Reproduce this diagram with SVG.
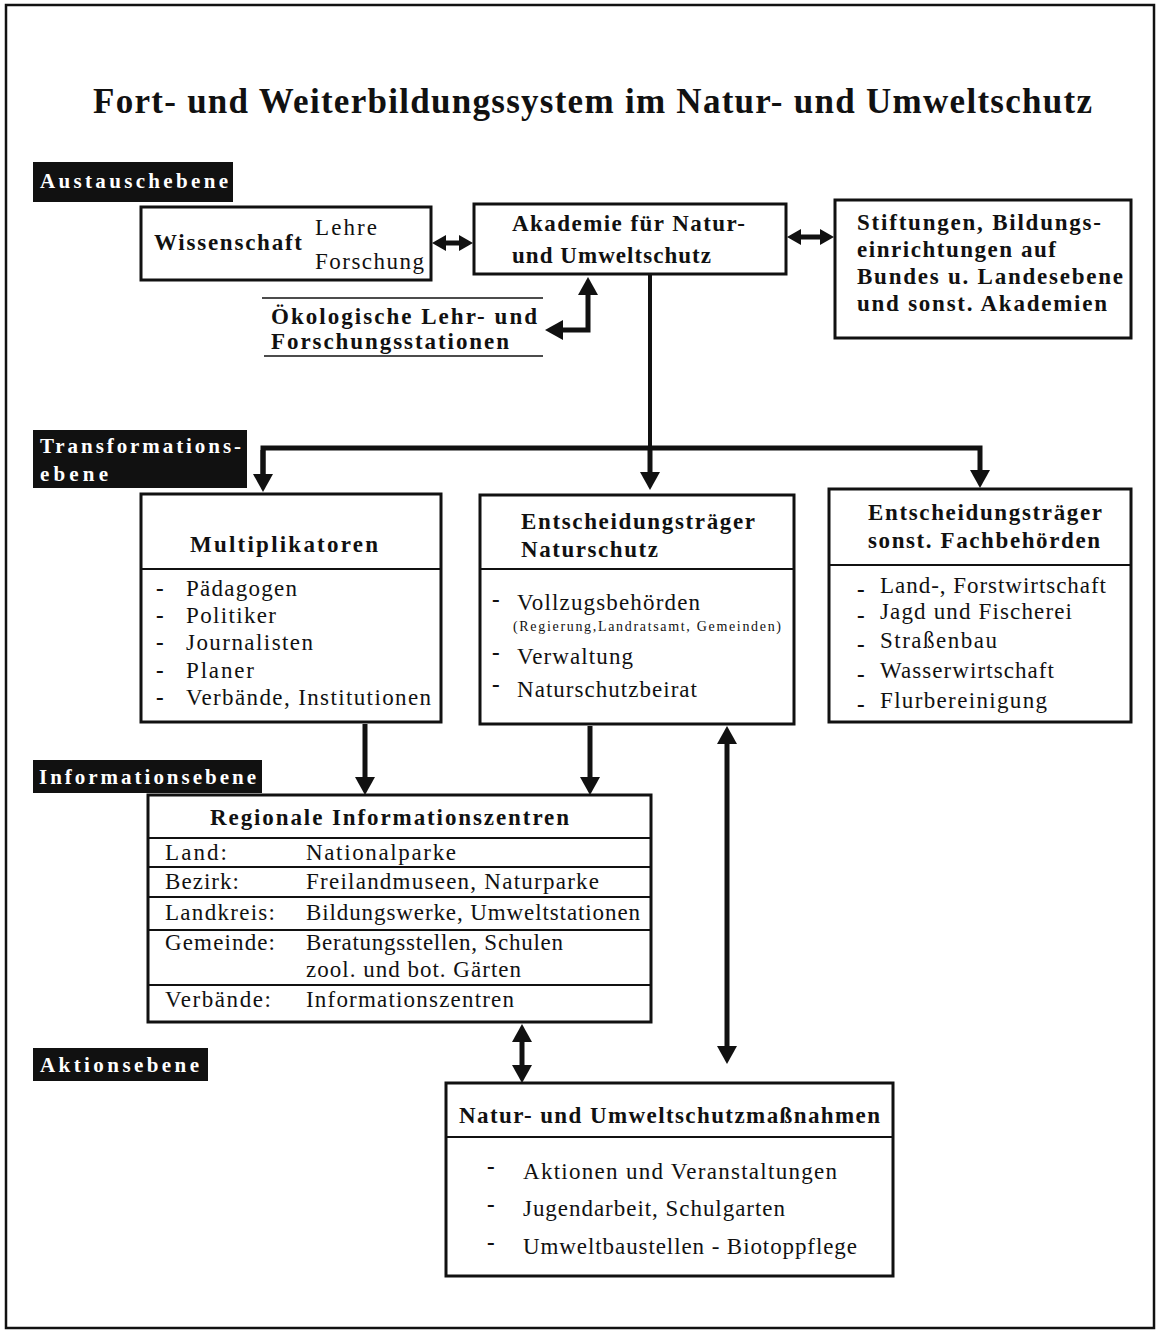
<svg xmlns="http://www.w3.org/2000/svg" width="1161" height="1331" viewBox="0 0 1161 1331">
<style>
text{font-family:"Liberation Serif","Times New Roman",serif;fill:#111}
.b{font-weight:bold}
.t{font-size:23px}
.lab{font-size:21px;font-weight:bold;fill:#fff}
.lbox{fill:#111}
.box{fill:#fff;stroke:#111;stroke-width:3}
.div{stroke:#111;stroke-width:2}
.con{fill:none;stroke:#111;stroke-width:5}
.thin{fill:none;stroke:#111;stroke-width:1.5}
</style>
<defs>
<marker id="ah" markerUnits="userSpaceOnUse" viewBox="0 0 18 20" markerWidth="18" markerHeight="20" refX="12" refY="10" orient="auto-start-reverse">
<path d="M0,0 L18,10 L0,20 z" fill="#111"/>
</marker>
<marker id="ahs" markerUnits="userSpaceOnUse" viewBox="0 0 14 16" markerWidth="14" markerHeight="16" refX="9" refY="8" orient="auto-start-reverse">
<path d="M0,0 L14,8 L0,16 z" fill="#111"/>
</marker>
</defs>
<rect width="1161" height="1331" fill="#fff"/>
<rect x="6" y="5" width="1148" height="1323" fill="none" stroke="#111" stroke-width="2.5"/>
<text x="93" y="113" class="b" font-size="35" textLength="999" lengthAdjust="spacing">Fort- und Weiterbildungssystem im Natur- und Umweltschutz</text>

<g id="level-labels">
<rect class="lbox" x="33" y="162" width="200" height="40"/>
<text class="lab" x="40" y="188" textLength="188">Austauschebene</text>
<rect class="lbox" x="33" y="430" width="214" height="58"/>
<text class="lab" x="40" y="453" textLength="201">Transformations-</text>
<text class="lab" x="40" y="481" textLength="68">ebene</text>
<rect class="lbox" x="33" y="760" width="229" height="33"/>
<text class="lab" x="39" y="784" textLength="217">Informationsebene</text>
<rect class="lbox" x="33" y="1048" width="175" height="33"/>
<text class="lab" x="40" y="1072" textLength="159">Aktionsebene</text>
</g>

<g id="connectors">
<line class="con" x1="437" y1="243" x2="468" y2="243" marker-start="url(#ahs)" marker-end="url(#ahs)"/>
<line class="con" x1="792" y1="237" x2="829" y2="237" marker-start="url(#ahs)" marker-end="url(#ahs)"/>
<path class="con" d="M551,330 H588 V283" marker-start="url(#ah)" marker-end="url(#ah)"/>
<line x1="650" y1="275" x2="650" y2="450" stroke="#111" stroke-width="4"/>
<path class="con" d="M650,446 V484" marker-end="url(#ah)"/>
<path class="con" d="M263,486 V448 H980 V482" marker-end="url(#ah)"/>
<path class="con" d="M263,450 V486" marker-end="url(#ah)"/>
<path class="con" d="M365,724 V789" marker-end="url(#ah)"/>
<path class="con" d="M590,726 V789" marker-end="url(#ah)"/>
<path class="con" d="M727,732 V1058" marker-start="url(#ah)" marker-end="url(#ah)"/>
<path class="con" d="M522,1030 V1077" marker-start="url(#ah)" marker-end="url(#ah)"/>
</g>

<g id="wissenschaft">
<rect class="box" x="141" y="207" width="290" height="73"/>
<text class="b t" x="154" y="250" textLength="148">Wissenschaft</text>
<text class="t" x="315" y="235" textLength="62">Lehre</text>
<text class="t" x="315" y="269" textLength="109">Forschung</text>
</g>

<g id="akademie">
<rect class="box" x="474" y="204" width="312" height="70"/>
<text class="b t" x="512" y="231" textLength="233">Akademie für Natur-</text>
<text class="b t" x="512" y="263" textLength="199">und Umweltschutz</text>
</g>

<g id="stiftungen">
<rect class="box" x="835" y="200" width="296" height="138"/>
<text class="b t" x="857" y="230" textLength="244">Stiftungen, Bildungs-</text>
<text class="b t" x="857" y="257" textLength="199">einrichtungen auf</text>
<text class="b t" x="857" y="284" textLength="266">Bundes u. Landesebene</text>
<text class="b t" x="857" y="311" textLength="250">und sonst. Akademien</text>
</g>

<g id="oekologische">
<line class="thin" x1="262" y1="298" x2="543" y2="298"/>
<line class="thin" x1="264" y1="356" x2="543" y2="356"/>
<text class="b t" x="271" y="324" textLength="266">Ökologische Lehr- und</text>
<text class="b t" x="271" y="349" textLength="238">Forschungsstationen</text>
</g>

<g id="multiplikatoren">
<rect class="box" x="141" y="494" width="300" height="228"/>
<line class="div" x1="141" y1="569" x2="441" y2="569"/>
<text class="b t" x="190" y="552" textLength="188">Multiplikatoren</text>
<text class="t b" x="156" y="596">-</text><text class="t" x="186" y="596" textLength="111">Pädagogen</text>
<text class="t b" x="156" y="623">-</text><text class="t" x="186" y="623" textLength="90">Politiker</text>
<text class="t b" x="156" y="650">-</text><text class="t" x="186" y="650" textLength="127">Journalisten</text>
<text class="t b" x="156" y="678">-</text><text class="t" x="186" y="678" textLength="68">Planer</text>
<text class="t b" x="156" y="705">-</text><text class="t" x="186" y="705" textLength="245">Verbände, Institutionen</text>
</g>

<g id="entscheidung-naturschutz">
<rect class="box" x="480" y="495" width="314" height="229"/>
<line class="div" x1="480" y1="569" x2="794" y2="569"/>
<text class="b t" x="521" y="529" textLength="234">Entscheidungsträger</text>
<text class="b t" x="521" y="557" textLength="137">Naturschutz</text>
<text class="t b" x="492" y="607">-</text><text class="t" x="517" y="610" textLength="183">Vollzugsbehörden</text>
<text x="513" y="631" font-size="14" textLength="268">(Regierung,Landratsamt, Gemeinden)</text>
<text class="t b" x="492" y="660">-</text><text class="t" x="517" y="664" textLength="116">Verwaltung</text>
<text class="t b" x="492" y="692">-</text><text class="t" x="517" y="697" textLength="180">Naturschutzbeirat</text>
</g>

<g id="entscheidung-fachbehoerden">
<rect class="box" x="829" y="489" width="302" height="233"/>
<line class="div" x1="829" y1="565" x2="1131" y2="565"/>
<text class="b t" x="868" y="520" textLength="234">Entscheidungsträger</text>
<text class="b t" x="868" y="548" textLength="232">sonst. Fachbehörden</text>
<text class="t b" x="857" y="597">-</text><text class="t" x="880" y="593" textLength="226">Land-, Forstwirtschaft</text>
<text class="t b" x="857" y="623">-</text><text class="t" x="880" y="619" textLength="192">Jagd und Fischerei</text>
<text class="t b" x="857" y="652">-</text><text class="t" x="880" y="648" textLength="117">Straßenbau</text>
<text class="t b" x="857" y="682">-</text><text class="t" x="880" y="678" textLength="174">Wasserwirtschaft</text>
<text class="t b" x="857" y="712">-</text><text class="t" x="880" y="708" textLength="167">Flurbereinigung</text>
</g>

<g id="regionale-informationszentren">
<rect class="box" x="148" y="795" width="503" height="227"/>
<text class="b t" x="210" y="825" textLength="359">Regionale Informationszentren</text>
<line class="div" x1="148" y1="838" x2="651" y2="838"/>
<line class="div" x1="148" y1="867" x2="651" y2="867"/>
<line class="div" x1="148" y1="897" x2="651" y2="897"/>
<line class="div" x1="148" y1="930" x2="651" y2="930"/>
<line class="div" x1="148" y1="985" x2="651" y2="985"/>
<text class="t" x="165" y="860" textLength="62">Land:</text>
<text class="t" x="306" y="860" textLength="150">Nationalparke</text>
<text class="t" x="165" y="889" textLength="74">Bezirk:</text>
<text class="t" x="306" y="889" textLength="293">Freilandmuseen, Naturparke</text>
<text class="t" x="165" y="920" textLength="110">Landkreis:</text>
<text class="t" x="306" y="920" textLength="334">Bildungswerke, Umweltstationen</text>
<text class="t" x="165" y="950" textLength="110">Gemeinde:</text>
<text class="t" x="306" y="950" textLength="257">Beratungsstellen, Schulen</text>
<text class="t" x="306" y="977" textLength="215">zool. und bot. Gärten</text>
<text class="t" x="165" y="1007" textLength="106">Verbände:</text>
<text class="t" x="306" y="1007" textLength="208">Informationszentren</text>
</g>

<g id="massnahmen">
<rect class="box" x="446" y="1083" width="447" height="193"/>
<line class="div" x1="446" y1="1137" x2="893" y2="1137"/>
<text class="b t" x="459" y="1123" textLength="421">Natur- und Umweltschutzmaßnahmen</text>
<text class="t b" x="487" y="1174">-</text><text class="t" x="523" y="1179" textLength="314">Aktionen und Veranstaltungen</text>
<text class="t b" x="487" y="1212">-</text><text class="t" x="523" y="1216" textLength="262">Jugendarbeit, Schulgarten</text>
<text class="t b" x="487" y="1250">-</text><text class="t" x="523" y="1254" textLength="334">Umweltbaustellen - Biotoppflege</text>
</g>
</svg>
